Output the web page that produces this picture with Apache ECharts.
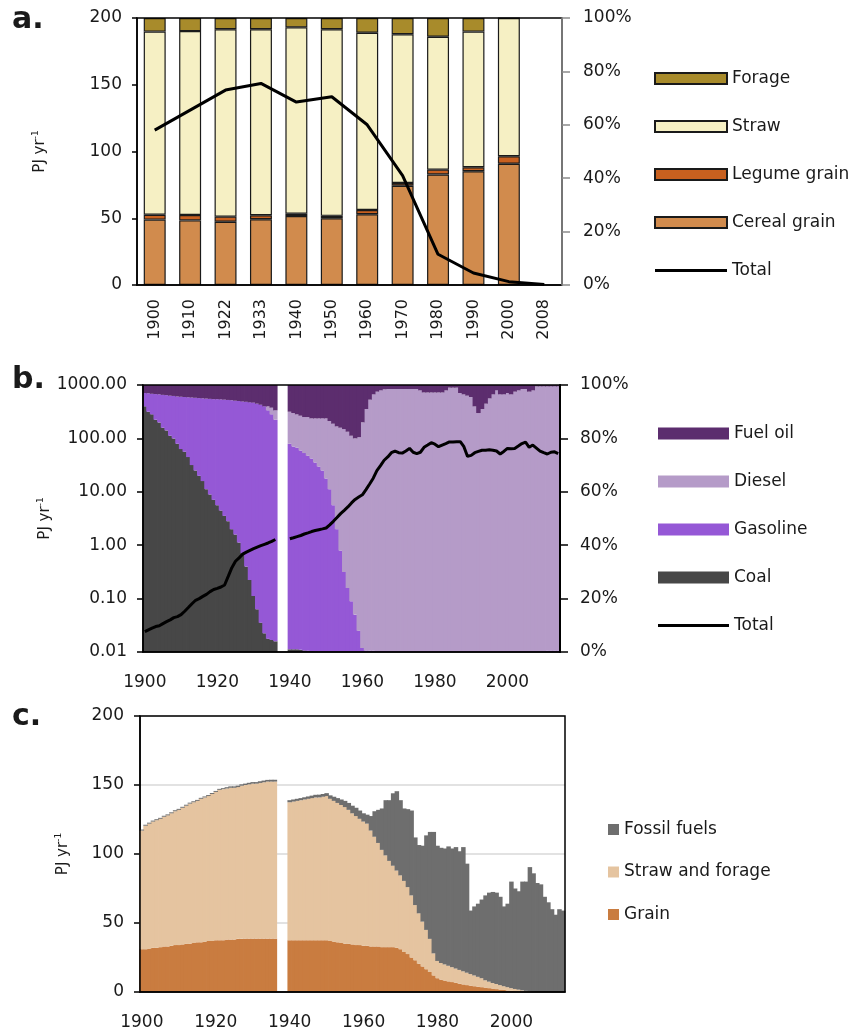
<!DOCTYPE html>
<html>
<head>
<meta charset="utf-8">
<title>Bioenergy and fossil fuels</title>
<script src="https://cdn.jsdelivr.net/npm/echarts@6.0.0/dist/echarts.min.js"></script>
<style>
    html, body { margin: 0; padding: 0; background: #ffffff; }
    #MyChart { width: 853px; height: 1031px; }
</style>
</head>
<body>
<div id="MyChart"></div>
<script>
// ---- panel a: share of biomass types (bars, %) and total (line, PJ/yr)
var yearsA = ['1900', '1910', '1922', '1933', '1940', '1950', '1960', '1970', '1980', '1990', '2000', '2008']
var cerealPct = [24.5, 24.2, 23.7, 24.6, 25.8, 25.0, 26.5, 37.2, 41.4, 42.6, 45.4, null]
var legumePct = [1.8, 2.0, 1.9, 1.5, 0.9, 0.9, 1.6, 1.0, 1.8, 1.5, 2.8, null]
var strawPct = [68.6, 68.9, 70.2, 69.7, 69.8, 69.9, 66.4, 55.7, 49.8, 50.8, 51.8, null]
var foragePct = [5.1, 4.9, 4.2, 4.2, 3.5, 4.2, 5.5, 6.1, 7.0, 5.1, 0, null]
var totalA = [116, 131, 146, 151, 137, 141, 120, 82, 23, 9, 2.5, 0.3]

// ---- panel b: share of fossil fuels (%, yearly 1900-2014) and total (PJ/yr, log)
var yearsB = []
for (let y = 1900; y <= 2014; y++) {
    yearsB.push(String(y))
}
var coalPct = [
    92, 90, 89, 87, 86, 84, 83, 81, 80, 78,
    76, 75, 73, 70, 68, 66, 64, 61, 59, 57,
    55, 53, 51, 49, 46, 44, 41, 37, 32, 27,
    21, 16, 11, 7, 5, 4.5, 4, null, null, null,
    1, 1, 1, 0.8, 0.6, 0.5, 0.3, 0.2, 0.1, 0,
    0, 0, 0, 0, 0, 0, 0, 0, 0, 0,
    0, 0, 0, 0, 0, 0, 0, 0, 0, 0,
    0, 0, 0, 0, 0, 0, 0, 0, 0, 0,
    0, 0, 0, 0, 0, 0, 0, 0, 0, 0,
    0, 0, 0, 0, 0, 0, 0, 0, 0, 0,
    0, 0, 0, 0, 0, 0, 0, 0, 0, 0,
    0, 0, 0, 0, 0]
var gasolinePct = [
    5.0, 6.9, 7.7, 9.6, 10.5, 12.3, 13.2, 15.0, 15.9, 17.7,
    19.6, 20.5, 22.4, 25.3, 27.2, 29.1, 31.0, 33.9, 35.8, 37.7,
    39.7, 41.6, 43.5, 45.4, 48.3, 50.1, 53.0, 56.8, 61.7, 66.5,
    72.4, 77.0, 81.6, 85.0, 85.5, 84.5, 83.0, null, null, null,
    77, 76, 75.5, 74.7, 73.9, 73, 72.2, 70.8, 69.4, 68,
    65, 61, 55, 46, 38, 30, 24, 19, 14, 8,
    1.5, 0.6, 0.5, 0.5, 0.4, 0.4, 0.4, 0.4, 0.3, 0.3,
    0.3, 0.3, 0.3, 0.3, 0.3, 0.3, 0.3, 0.3, 0.3, 0.3,
    0.3, 0.3, 0.3, 0.3, 0.3, 0.3, 0.3, 0.3, 0.3, 0.3,
    0.3, 0.3, 0.3, 0.3, 0.3, 0.3, 0.3, 0.3, 0.3, 0.3,
    0.3, 0.3, 0.3, 0.3, 0.3, 0.3, 0.3, 0.3, 0.3, 0.3,
    0.3, 0.5, 0.5, 0.5, 0.5]
var dieselPct = [
    0, 0, 0, 0, 0, 0, 0, 0, 0, 0,
    0, 0, 0, 0, 0, 0, 0, 0, 0, 0,
    0, 0, 0, 0, 0, 0, 0, 0, 0, 0,
    0, 0, 0, 0, 1.5, 2.5, 3.5, null, null, null,
    12, 12.5, 12.5, 13, 13.5, 14.5, 15, 16.5, 18, 19.5,
    22.5, 25.5, 30.5, 38.5, 46, 53.5, 58.5, 62, 66, 72.5,
    84.5, 90.4, 94, 96, 97.1, 97.6, 98, 98.1, 98.2, 98.2,
    98.2, 98.2, 98.2, 98.2, 98.2, 98.2, 97.7, 96.9, 96.9, 96.9,
    96.9, 96.9, 96.9, 97.7, 98.7, 98.7, 98.7, 96.7, 96.2, 95.7,
    95.2, 91.7, 89.2, 90.7, 92.7, 94.7, 96.2, 97.7, 96.2, 96.2,
    96.7, 96.2, 97.2, 97.7, 98.2, 98.2, 97.2, 97.7, 99.2, 99.2,
    99.2, 99.0, 99.0, 99.0, 99.0]
var fuelOilPct = [
    3.0, 3.1, 3.3, 3.4, 3.5, 3.7, 3.8, 4.0, 4.1, 4.3,
    4.4, 4.5, 4.6, 4.7, 4.8, 4.9, 5.0, 5.1, 5.2, 5.3,
    5.3, 5.4, 5.5, 5.6, 5.7, 5.9, 6.0, 6.2, 6.3, 6.5,
    6.6, 7.0, 7.4, 8.0, 8.0, 8.5, 9.5, null, null, null,
    10, 10.5, 11, 11.5, 12, 12, 12.5, 12.5, 12.5, 12.5,
    12.5, 13.5, 14.5, 15.5, 16, 16.5, 17.5, 19, 20, 19.5,
    14, 9, 5.5, 3.5, 2.5, 2, 1.6, 1.5, 1.5, 1.5,
    1.5, 1.5, 1.5, 1.5, 1.5, 1.5, 2, 2.8, 2.8, 2.8,
    2.8, 2.8, 2.8, 2, 1, 1, 1, 3, 3.5, 4,
    4.5, 8, 10.5, 9, 7, 5, 3.5, 2, 3.5, 3.5,
    3, 3.5, 2.5, 2, 1.5, 1.5, 2.5, 2, 0.5, 0.5,
    0.5, 0.5, 0.5, 0.5, 0.5]
var totalB = [
    0.024, 0.026, 0.028, 0.030, 0.031, 0.034, 0.037, 0.040, 0.044, 0.046,
    0.050, 0.058, 0.068, 0.080, 0.093, 0.100, 0.110, 0.120, 0.135, 0.148,
    0.155, 0.165, 0.18, 0.26, 0.38, 0.50, 0.58, 0.68, 0.74, 0.80,
    0.86, 0.92, 0.98, 1.04, 1.10, 1.18, 1.28, null, null, null,
    1.32, 1.38, 1.45, 1.52, 1.62, 1.70, 1.80, 1.88, 1.95, 2.02,
    2.10, 2.40, 2.80, 3.30, 3.90, 4.50, 5.20, 6.2, 7.2, 8.0,
    8.8, 11, 14, 18, 25, 31, 39, 45, 54, 58,
    54, 53, 58, 65, 55, 52, 55, 68, 75, 83,
    78, 70, 75, 80, 86, 86, 87, 87, 70, 46,
    48, 54, 57, 60, 60, 61, 60, 58, 51, 57,
    65, 64, 65, 72, 80, 85, 68, 75, 66, 58,
    54, 51, 55, 56, 52]

// ---- panel c: energy from grain, straw/forage and fossil fuels (PJ/yr)
var grainC = [
    31, 31, 31.5, 32, 32, 32.5, 33, 33, 33.5, 34,
    34, 34.5, 35, 35, 35.5, 36, 36, 36.5, 37, 37,
    37.5, 37.5, 37.5, 38, 38, 38, 38.5, 38.5, 38.7, 38.7,
    38.7, 38.7, 38.7, 38.7, 38.7, 38.7, 38.7, null, null, null,
    37.5, 37.5, 37.5, 37.5, 37.5, 37.5, 37.5, 37.5, 37.5, 37.5,
    37.5, 37, 36.5, 36, 35.5, 35, 35, 34.5, 34, 34,
    33.5, 33.5, 33, 33, 33, 32.5, 32.5, 32.5, 32.5, 32,
    31, 29, 27.5, 25, 23, 20.5, 18.5, 16.5, 14.5, 12,
    10, 9, 8.3, 7.7, 7.2, 6.6, 6, 5.5, 5, 4.6,
    4.2, 3.8, 3.5, 3.2, 2.8, 2.5, 2.1, 1.8, 1.5, 1.1,
    0.8, 0.5, 0.3, 0.1, 0, 0, 0, 0, 0, 0,
    0, 0, 0, 0, 0]
var strawC = [
    86, 89.5, 90.5, 91.5, 92.5, 93, 94, 95, 96, 97,
    98, 99, 100, 101.5, 102, 102.5, 104, 104.5, 105, 106.5,
    107.5, 109, 109.5, 109.5, 110, 110, 110, 111, 111.3, 111.8,
    112.3, 112.3, 112.8, 113.3, 113.8, 113.8, 113.8, null, null, null,
    100, 100.5, 101, 101.5, 102, 102.5, 103, 103.5, 103.5, 104,
    104.5, 103, 102, 101, 100, 99, 97, 95, 93.5, 91.5,
    90, 88.5, 84, 79.5, 75, 70.5, 66.5, 62.5, 59, 56,
    53.5, 51.5, 48.5, 45, 40, 36.5, 32.5, 28.5, 24, 16,
    12.5, 12, 11.7, 11.3, 10.8, 10.4, 10, 9.5, 9, 8.4,
    7.8, 7.2, 6.5, 5.3, 4.7, 4, 3.7, 3.2, 2.7, 2.4,
    2, 1.7, 1.4, 1.1, 0.8, 0.5, 0.2, 0, 0, 0,
    0, 0, 0, 0, 0]
var fossilC = [
    0.7, 0.7, 0.7, 0.7, 0.7, 0.7, 0.7, 0.7, 0.7, 0.7,
    0.7, 0.7, 0.7, 0.7, 0.7, 0.7, 0.7, 0.7, 0.7, 0.7,
    0.7, 0.7, 0.7, 0.9, 1, 1, 1, 1, 1, 1.1,
    1.1, 1.1, 1.2, 1.2, 1.2, 1.3, 1.3, null, null, null,
    1.5, 1.5, 1.5, 1.5, 1.6, 1.7, 1.8, 1.9, 2, 2,
    2.1, 2.5, 3, 3.5, 4, 4.5, 5, 5.5, 6, 6,
    6, 6.5, 10.5, 18.5, 24, 30, 40, 44, 52.5, 57.5,
    54.5, 52.5, 56.5, 61.5, 49, 49.5, 55, 68.5, 77.5, 88,
    83.5, 83.5, 84, 86.5, 86, 88, 86, 90, 79, 46,
    50, 53, 57, 61.5, 64.5, 66, 66.2, 64, 57.8, 60.5,
    77.2, 72.8, 71.3, 78.8, 79.2, 90, 85.8, 79, 78, 69,
    65, 60, 56, 60, 59]

var fontName = 'DejaVu Sans'
var ink = '#1a1a1a'
var labelStyle = {color: ink, fontSize: 17, fontFamily: fontName}
// plain line icon for the "Total" legend entries (no marker dot)
var lineIcon = 'path://M0,0M72,11M0,4L72,4L72,7L0,7Z'

// y axis title "PJ yr-1" with a small superscript
function unitName(gap) {
    return {
        name: '{n|PJ yr}{s|-1}',
        nameLocation: 'middle',
        nameGap: gap,
        nameTextStyle: {
            rich: {
                n: {fontSize: 15, fontFamily: fontName, color: ink, lineHeight: 18},
                s: {fontSize: 9, fontFamily: fontName, color: ink, verticalAlign: 'top', lineHeight: 10}
            }
        }
    }
}

function blackLine(w) {
    return {show: true, lineStyle: {color: '#000', width: w}}
}

var every10 = function (index, value) { return Number(value) % 10 === 0 }
var every20 = function (index, value) { return Number(value) % 20 === 0 }

// yearly columns touching each other: [index, bottom, top] per year
// (drawn as a custom series, slightly widened so no white seams appear)
function stackRows(list) {
    let base = new Array(list[0].length).fill(0)
    let out = []
    for (let k = 0; k < list.length; k++) {
        let rows = []
        for (let i = 0; i < list[k].length; i++) {
            let v = list[k][i]
            if (v === null) {
                rows.push([i, null, null])
            } else {
                rows.push([i, base[i], base[i] + v])
                base[i] += v
            }
        }
        out.push(rows)
    }
    return out
}

function columnSeries(name, rows, color, xi, yi) {
    return {
        name: name, type: 'custom', data: rows,
        xAxisIndex: xi, yAxisIndex: yi,
        encode: {x: 0, y: [1, 2]},
        itemStyle: {color: color},
        renderItem: function (params, api) {
            let lo = api.value(1), hi = api.value(2)
            if (isNaN(lo) || isNaN(hi) || hi <= lo) {
                return null
            }
            let p0 = api.coord([api.value(0), lo])
            let p1 = api.coord([api.value(0), hi])
            let w = api.size([1, 0])[0]
            return {
                type: 'rect',
                shape: {x: p0[0] - w / 2 - 0.4, y: p1[1], width: w + 0.8, height: p0[1] - p1[1]},
                style: {fill: color}
            }
        }
    }
}

var rowsB = stackRows([coalPct, gasolinePct, dieselPct, fuelOilPct])
var rowsC = stackRows([grainC, strawC, fossilC])

function edgedBar(name, data, color) {
    return {
        name: name, type: 'bar', stack: 'a', data: data,
        xAxisIndex: 0, yAxisIndex: 1,
        barCategoryGap: '38%',
        itemStyle: {color: color, borderColor: ink, borderWidth: 1.2}
    }
}

var chartDom = document.getElementById('MyChart');
var myChart = echarts.init(chartDom);
var option;

option = {
    animation: false,
    backgroundColor: '#ffffff',
    graphic: [
        {type: 'text', x: 12, y: 20, style: {text: 'a.', fontSize: 30, fontWeight: 'bold', fontFamily: fontName, fill: ink, verticalAlign: 'middle'}},
        {type: 'text', x: 12, y: 380, style: {text: 'b.', fontSize: 30, fontWeight: 'bold', fontFamily: fontName, fill: ink, verticalAlign: 'middle'}},
        {type: 'text', x: 12, y: 717, style: {text: 'c.', fontSize: 30, fontWeight: 'bold', fontFamily: fontName, fill: ink, verticalAlign: 'middle'}}
    ],
    grid: [
        {left: 137, top: 18, width: 425, height: 267, show: true, borderColor: '#000', borderWidth: 1.5, z: 10, backgroundColor: 'transparent', outerBoundsMode: 'none'},
        {left: 143, top: 385, width: 417, height: 267, show: true, borderColor: '#000', borderWidth: 1.5, z: 10, backgroundColor: 'transparent', outerBoundsMode: 'none'},
        {left: 140, top: 716, width: 425, height: 276, show: true, borderColor: '#000', borderWidth: 1.5, z: 10, backgroundColor: 'transparent', outerBoundsMode: 'none'}
    ],
    legend: [
        {
            orient: 'vertical', left: 649, top: 65, itemWidth: 72, itemHeight: 11, itemGap: 31,
            selectedMode: false, textStyle: labelStyle,
            data: [{name: 'Forage', icon: 'rect'}, {name: 'Straw', icon: 'rect'}, {name: 'Legume grain', icon: 'rect'},
                {name: 'Cereal grain', icon: 'rect'}, {name: 'Total', icon: lineIcon}]
        },
        {
            orient: 'vertical', left: 653, top: 420, itemWidth: 71, itemHeight: 12, itemGap: 31,
            selectedMode: false, textStyle: labelStyle,
            data: [{name: 'Fuel oil', icon: 'rect'}, {name: 'Diesel', icon: 'rect'}, {name: 'Gasoline', icon: 'rect'},
                {name: 'Coal', icon: 'rect'}, {name: 'Total', icon: lineIcon}]
        },
        {
            orient: 'vertical', left: 603, top: 816, itemWidth: 11, itemHeight: 11, itemGap: 25.5,
            selectedMode: false, textStyle: labelStyle,
            data: [{name: 'Fossil fuels', icon: 'rect'}, {name: 'Straw and forage', icon: 'rect'}, {name: 'Grain', icon: 'rect'}]
        }
    ],
    xAxis: [
        {
            gridIndex: 0, type: 'category', data: yearsA, z: 11,
            axisLine: blackLine(1.5),
            axisTick: {alignWithLabel: true, length: 6, lineStyle: {color: '#000', width: 1.5}},
            axisLabel: {rotate: 90, margin: 14, color: ink, fontSize: 16, fontFamily: fontName}
        },
        {
            gridIndex: 1, type: 'category', data: yearsB, z: 11,
            axisLine: blackLine(1.5),
            axisTick: {interval: every10, length: 7, lineStyle: {color: '#000', width: 1.5}},
            axisLabel: Object.assign({interval: every20, margin: 22}, labelStyle)
        },
        {
            gridIndex: 2, type: 'category', data: yearsB, z: 11,
            axisLine: blackLine(1.5),
            axisTick: {interval: every10, length: 7, lineStyle: {color: '#000', width: 1.5}},
            axisLabel: Object.assign({interval: every20, margin: 22}, labelStyle)
        }
    ],
    yAxis: [
        Object.assign({
            gridIndex: 0, type: 'value', min: 0, max: 200, interval: 50, z: 11,
            axisLine: blackLine(1.5),
            axisTick: {show: true, length: 5, lineStyle: {color: '#000', width: 1.5}},
            axisLabel: Object.assign({margin: 15}, labelStyle),
            splitLine: {show: false}
        }, unitName(88)),
        {
            gridIndex: 0, type: 'value', position: 'right', min: 0, max: 100, interval: 20, z: 12,
            axisLine: {show: true, lineStyle: {color: '#8a8a8a', width: 1.5}},
            axisTick: {show: true, length: 8, lineStyle: {color: '#8a8a8a', width: 1.5}},
            axisLabel: Object.assign({margin: 21, formatter: '{value}%'}, labelStyle),
            splitLine: {show: false}
        },
        Object.assign({
            gridIndex: 1, type: 'log', logBase: 10, min: 0.01, max: 1000, z: 11,
            axisLine: blackLine(1.5),
            axisTick: {show: true, length: 6, lineStyle: {color: '#000', width: 1.5}},
            axisLabel: Object.assign({margin: 16, formatter: function (v) { return Number(v).toFixed(2) }}, labelStyle),
            splitLine: {show: false},
            minorTick: {show: false}
        }, unitName(87)),
        {
            gridIndex: 1, type: 'value', position: 'right', min: 0, max: 100, interval: 20, z: 11,
            axisLine: blackLine(2),
            axisTick: {show: true, length: 8, lineStyle: {color: '#000', width: 1.5}},
            axisLabel: Object.assign({margin: 20, formatter: '{value}%'}, labelStyle),
            splitLine: {show: false}
        },
        // split lines stay behind the columns; the grid border draws the axis line on top
        Object.assign({
            gridIndex: 2, type: 'value', min: 0, max: 200, interval: 50, z: 0,
            axisLine: blackLine(1.5),
            axisTick: {show: true, length: 6, lineStyle: {color: '#000', width: 1.5}},
            axisLabel: Object.assign({margin: 16}, labelStyle),
            splitLine: {show: true, lineStyle: {color: '#d9d9d9', width: 1.5}}
        }, unitName(68))
    ],
    series: [
        // a
        edgedBar('Cereal grain', cerealPct, '#D18B4D'),
        edgedBar('Legume grain', legumePct, '#C8601F'),
        edgedBar('Straw', strawPct, '#F6F0C4'),
        edgedBar('Forage', foragePct, '#A88B2B'),
        {
            name: 'Total', type: 'line', data: totalA, xAxisIndex: 0, yAxisIndex: 0,
            symbol: 'none', z: 5,
            lineStyle: {color: '#000', width: 3}, itemStyle: {color: '#000'}
        },
        // b
        columnSeries('Coal', rowsB[0], '#474747', 1, 3),
        columnSeries('Gasoline', rowsB[1], '#9558D6', 1, 3),
        columnSeries('Diesel', rowsB[2], '#B59BC8', 1, 3),
        columnSeries('Fuel oil', rowsB[3], '#5C2D6E', 1, 3),
        {
            name: 'Total', type: 'line', data: totalB, xAxisIndex: 1, yAxisIndex: 2,
            symbol: 'none', z: 5, connectNulls: false,
            lineStyle: {color: '#000', width: 3}, itemStyle: {color: '#000'}
        },
        // c
        columnSeries('Grain', rowsC[0], '#C97C40', 2, 4),
        columnSeries('Straw and forage', rowsC[1], '#E5C4A0', 2, 4),
        columnSeries('Fossil fuels', rowsC[2], '#6E6E6E', 2, 4)
    ]
};

option && myChart.setOption(option);
</script>
</body>
</html>
